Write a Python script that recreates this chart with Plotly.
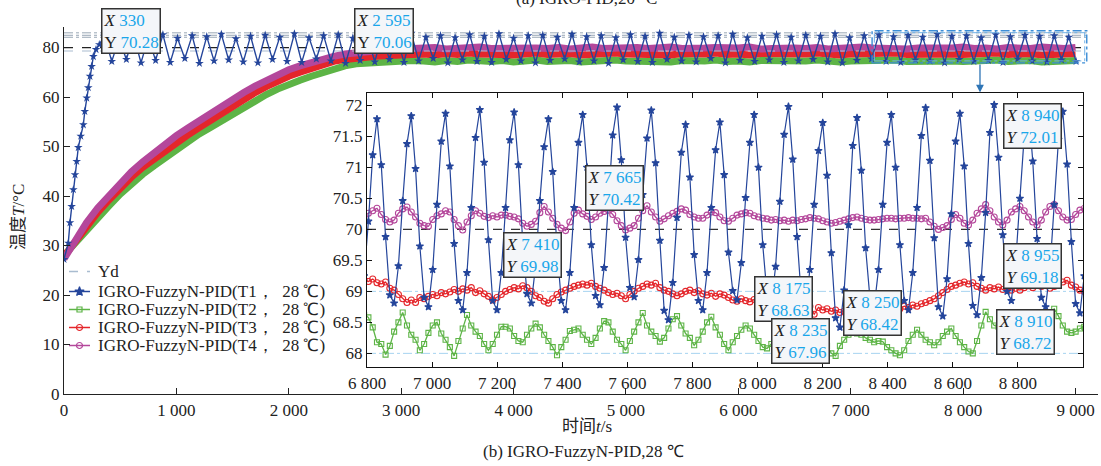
import plotly.graph_objects as go

# ---------------- main panel (0 - 9 000 s) ----------------
MAIN_STEP = 100  # s between read points of T2-T4
T2_MAIN = [28.0, 30.6, 33.3, 35.6, 38.0, 40.4, 42.5, 44.4, 46.1, 47.8, 49.3, 51.0, 52.5, 53.8, 55.2,
           56.5, 57.9, 59.2, 60.5, 61.6, 62.6, 63.4, 64.2, 65.0, 65.6, 66.3, 66.7, 66.9, 67.0, 67.1,
           67.2, 67.4, 67.3, 67.1, 67.4, 67.2, 67.5, 67.3, 67.2, 67.4, 67.1, 67.3, 67.5, 67.2, 67.3,
           67.4, 67.1, 67.3, 67.2, 67.5, 67.3, 67.2, 67.4, 67.3, 67.1, 67.4, 67.2, 67.3, 67.5, 67.2,
           67.3, 67.1, 67.4, 67.3, 67.2, 67.4, 67.3, 67.5, 67.2, 67.1, 67.3, 67.4, 67.2, 67.3, 67.5,
           67.2, 67.3, 67.1, 67.4, 67.3, 67.2, 67.4, 67.3, 67.5, 67.2, 67.3, 67.4, 67.1, 67.3, 67.2, 67.4]
T3_MAIN = [27.8, 30.9, 33.9, 36.7, 39.2, 41.6, 43.8, 45.8, 47.5, 49.1, 50.7, 52.3, 53.8, 55.3, 56.8,
           58.2, 59.6, 60.9, 62.1, 63.3, 64.2, 65.0, 65.8, 66.6, 67.2, 67.6, 67.9, 68.1, 68.3, 68.4,
           68.6, 68.8, 68.7, 68.5, 68.8, 68.6, 68.9, 68.7, 68.6, 68.8, 68.5, 68.7, 68.9, 68.6, 68.7,
           68.8, 68.5, 68.7, 68.6, 68.9, 68.7, 68.6, 68.8, 68.7, 68.5, 68.8, 68.6, 68.7, 68.9, 68.6,
           68.7, 68.5, 68.8, 68.7, 68.6, 68.8, 68.7, 68.9, 68.6, 68.5, 68.7, 68.8, 68.6, 68.7, 68.9,
           68.6, 68.7, 68.5, 68.8, 68.7, 68.6, 68.8, 68.7, 68.9, 68.6, 68.7, 68.8, 68.5, 68.7, 68.6, 68.8]
T4_MAIN = [27.3, 31.3, 34.6, 37.6, 40.2, 42.6, 44.9, 46.9, 48.8, 50.6, 52.2, 53.7, 55.2, 56.7, 58.2,
           59.6, 60.9, 62.2, 63.4, 64.5, 65.5, 66.3, 67.0, 67.7, 68.2, 68.7, 69.0, 69.3, 69.5, 69.6,
           69.7, 69.9, 69.8, 70.0, 69.7, 69.9, 69.8, 70.1, 69.8, 69.9, 69.7, 70.0, 69.9, 69.8, 70.0,
           69.7, 69.9, 70.1, 69.8, 69.9, 69.7, 70.0, 69.8, 69.9, 70.1, 69.8, 69.7, 69.9, 70.0, 69.8,
           69.9, 70.1, 69.7, 69.8, 70.0, 69.9, 69.8, 70.0, 69.7, 69.9, 69.8, 70.1, 69.9, 69.8, 70.0,
           69.7, 69.9, 69.8, 70.0, 69.9, 70.1, 69.8, 69.9, 69.7, 70.0, 69.9, 69.8, 70.1, 69.9, 69.8, 70.0]

T1_RISE_T = [0, 38, 53, 68, 83, 98, 113, 127, 149, 172, 185, 202, 216, 231, 246, 261, 285, 314]
T1_RISE_V = [27.2, 30.5, 34.6, 37.9, 41.3, 44.3, 47.0, 49.8, 52.1, 54.4, 57.1, 59.8, 61.9, 64.2,
             66.2, 68.2, 69.6, 70.6]
T1_OSC_START = 360   # s, first crest after the rise
T1_OSC_PERIOD = 130  # s
T1_TOPS = [72.3, 71.8, 72.5, 72.0, 72.6, 71.9, 72.4, 72.2, 72.7, 71.8, 72.3, 72.5, 72.1, 72.8, 72.0,
           72.4, 72.6, 71.9, 72.3, 72.5, 72.2, 72.9, 72.1, 72.4, 72.0, 72.6, 72.3, 72.8, 71.9, 72.4,
           72.5, 72.1, 72.7, 72.2, 72.4, 72.0, 72.6, 72.3, 72.9, 72.1, 72.5, 72.2, 72.4, 72.7, 72.0,
           72.3, 72.6, 72.1, 72.5, 72.3, 72.8, 72.0, 72.4, 72.6, 72.2, 72.5, 72.1, 72.7, 72.3, 72.4,
           72.0, 72.6, 72.2, 72.5, 72.3, 72.4, 72.1]
T1_BOTTOMS = [67.2, 67.6, 66.9, 67.4, 67.0, 67.8, 66.8, 67.3, 67.5, 67.1, 66.9, 67.6, 67.2, 67.0, 67.7,
              67.3, 66.8, 67.4, 67.1, 67.6, 67.0, 67.3, 67.8, 66.9, 67.5, 67.2, 67.0, 67.6, 67.3, 66.9,
              67.4, 67.7, 67.1, 67.3, 66.8, 67.5, 67.2, 67.0, 67.6, 67.3, 67.1, 67.8, 66.9, 67.4, 67.2,
              67.5, 67.0, 67.3, 67.6, 67.1, 66.9, 67.4, 67.7, 67.2, 67.0, 67.5, 67.3, 66.9, 67.6, 67.2,
              67.4, 67.0, 67.7, 67.3, 67.1, 67.5, 67.2]

MAIN_X_TICKS = [0, 1000, 2000, 3000, 4000, 5000, 6000, 7000, 8000, 9000]
MAIN_X_LABELS = ["0", "1 000", "2 000", "3 000", "4 000", "5 000", "6 000", "7 000", "8 000", "9 000"]
MAIN_Y_TICKS = [0, 10, 20, 30, 40, 50, 60, 70]
MAIN_Y_LABELS = ["0", "10", "20", "30", "40", "50", "60", "80"]
YD_VALUE = 70
YD_LIGHT = 69.3
REF_LINES_TOP = [72.08, 72.48, 72.97]

# ---------------- inset (6 800 - 9 000 s) ----------------
INSET_T0 = 6778
INSET_DT = 13.17
T1_INSET = [68.70, 69.25, 70.13, 71.20, 71.78, 71.04, 69.88, 68.94,
            68.81, 69.41, 70.46, 71.38, 71.83, 70.98, 69.73, 68.90,
            68.75, 69.35, 70.40, 71.42, 71.87, 71.02, 69.77, 68.85,
            68.70, 69.30, 70.35, 71.48, 71.93, 71.08, 69.83, 68.85,
            68.70, 69.30, 70.35, 71.44, 71.89, 71.04, 69.79, 68.96,
            68.81, 69.41, 70.46, 71.33, 71.78, 70.93, 69.68, 68.85,
            68.70, 69.30, 70.35, 71.40, 71.85, 71.00, 69.75, 68.93,
            68.78, 69.38, 70.43, 71.52, 71.97, 71.12, 69.87, 69.06,
            68.91, 69.51, 70.56, 71.47, 71.92, 71.07, 69.82, 68.69,
            68.54, 69.14, 70.19, 71.24, 71.69, 70.84, 69.59, 68.85,
            68.70, 69.30, 70.35, 71.28, 71.73, 70.88, 69.63, 69.01,
            68.86, 69.46, 70.51, 71.40, 71.85, 71.00, 69.75, 68.95,
            68.80, 69.40, 70.45, 71.53, 71.98, 71.13, 69.88, 68.90,
            68.75, 69.35, 70.40, 71.27, 71.72, 70.87, 69.62, 68.57,
            68.42, 69.02, 70.07, 71.35, 71.80, 70.95, 69.70, 68.90,
            68.75, 69.35, 70.40, 71.40, 71.85, 71.00, 69.75, 68.85,
            68.70, 69.30, 70.35, 71.51, 71.96, 71.11, 69.86, 68.75,
            68.60, 69.20, 70.25, 71.42, 71.87, 71.02, 69.77, 68.77,
            68.62, 69.22, 70.27, 71.56, 72.01, 71.16, 69.91, 69.00,
            68.85, 69.45, 70.50, 71.50, 71.95, 71.10, 69.85, 68.90,
            68.75, 69.35, 70.40, 71.45, 71.90, 71.05, 69.80, 68.80,
            68.65, 69.25]
T2_INSET = [68.70, 68.62, 68.58, 68.42, 68.18, 68.15, 67.98, 68.12, 68.35, 68.50, 68.66, 68.45, 68.30,
            68.22, 68.05, 68.15, 68.33, 68.45, 68.50, 68.32, 68.22, 68.10, 67.96, 68.20, 68.40, 68.62,
            68.45, 68.35, 68.28, 68.15, 68.05, 68.15, 68.30, 68.43, 68.43, 68.40, 68.28, 68.20, 68.18,
            68.30, 68.40, 68.48, 68.42, 68.30, 68.20, 68.10, 67.97, 68.10, 68.22, 68.36, 68.38, 68.40,
            68.30, 68.22, 68.15, 68.25, 68.40, 68.52, 68.50, 68.35, 68.22, 68.15, 68.05, 68.20, 68.35,
            68.50, 68.65, 68.45, 68.35, 68.28, 68.19, 68.25, 68.40, 68.55, 68.60, 68.45, 68.32, 68.25,
            68.13, 68.22, 68.35, 68.50, 68.59, 68.42, 68.30, 68.15, 68.05, 68.18, 68.28, 68.38, 68.45,
            68.40, 68.30, 68.20, 68.10, 68.08, 68.15, 68.30, 68.40, 68.45, 68.35, 68.25, 68.12, 68.08,
            68.10, 68.25, 68.35, 68.40, 68.28, 68.12, 68.00, 67.96, 68.12, 68.22, 68.30, 68.35, 68.32,
            68.30, 68.25, 68.22, 68.18, 68.20, 68.19, 68.10, 68.05, 68.00, 67.97, 68.05, 68.20, 68.30,
            68.38, 68.30, 68.22, 68.18, 68.13, 68.18, 68.28, 68.35, 68.40, 68.28, 68.18, 68.10, 68.03,
            68.00, 68.20, 68.45, 68.67, 68.55, 68.45, 68.43, 68.40, 68.35, 68.30, 68.28, 68.30, 68.35,
            68.40, 68.45, 68.50, 68.55, 68.60, 68.65, 68.72, 68.60, 68.45, 68.35, 68.33, 68.35, 68.40,
            68.43]
T3_INSET = [69.15, 69.18, 69.16, 69.20, 69.14, 69.12, 69.15, 69.05, 69.02, 68.95, 68.88, 68.82, 68.86,
            68.82, 68.90, 68.88, 68.92, 68.95, 68.93, 68.98, 68.96, 68.99, 69.03, 69.00, 69.04, 69.02,
            69.06, 68.98, 69.01, 68.96, 68.92, 68.86, 68.90, 68.95, 69.00, 69.03, 69.06, 69.04, 69.09,
            69.06, 69.00, 68.93, 68.90, 68.84, 68.81, 68.88, 68.95, 68.99, 69.02, 69.05, 69.08, 69.10,
            69.12, 69.10, 69.13, 69.08, 69.05, 69.02, 68.98, 68.95, 68.97, 68.93, 68.88, 68.95, 69.00,
            69.05, 69.08, 69.12, 69.10, 69.13, 69.06, 69.02, 69.00, 68.96, 68.93, 68.96, 69.00, 69.02,
            68.98, 69.01, 68.96, 68.94, 68.97, 68.92, 68.96, 68.94, 68.90, 68.86, 68.84, 68.88, 68.85,
            68.83, 68.87, 68.90, 68.92, 68.88, 68.91, 68.89, 68.93, 68.90, 68.87, 68.91, 68.89, 68.85,
            68.82, 68.76, 68.63, 68.74, 68.70, 68.72, 68.68, 68.70, 68.66, 68.68, 68.65, 68.70, 68.68,
            68.72, 68.70, 68.74, 68.71, 68.75, 68.72, 68.68, 68.70, 68.74, 68.72, 68.76, 68.74, 68.78,
            68.76, 68.80, 68.82, 68.85, 68.88, 68.93, 68.98, 69.03, 69.08, 69.10, 69.13, 69.15, 69.12,
            69.14, 69.08, 69.05, 69.02, 69.06, 69.04, 69.07, 69.03, 69.06, 69.02, 69.05, 69.02, 69.06,
            69.09, 69.06, 69.10, 69.08, 69.10, 69.05, 69.08, 69.12, 69.15, 69.18, 69.10, 69.07, 69.02,
            69.00]
T4_INSET = [70.18, 70.22, 70.26, 70.30, 70.34, 70.24, 70.16, 70.12, 70.15, 70.26, 70.33, 70.36, 70.28,
            70.20, 70.10, 70.06, 70.05, 70.16, 70.22, 70.25, 70.30, 70.28, 70.16, 70.06, 69.99, 70.12,
            70.22, 70.30, 70.26, 70.21, 70.19, 70.22, 70.20, 70.23, 70.23, 70.21, 70.20, 70.17, 70.10,
            70.05, 70.08, 70.13, 70.27, 70.37, 70.28, 70.18, 70.08, 70.02, 69.98, 70.12, 70.26, 70.31,
            70.25, 70.21, 70.16, 70.20, 70.26, 70.29, 70.31, 70.24, 70.14, 70.06, 69.99, 70.02, 70.06,
            70.18, 70.30, 70.38, 70.28, 70.20, 70.13, 70.17, 70.22, 70.26, 70.29, 70.33, 70.31, 70.24,
            70.20, 70.18, 70.18, 70.23, 70.28, 70.27, 70.20, 70.14, 70.13, 70.18, 70.23, 70.25, 70.27,
            70.26, 70.22, 70.20, 70.18, 70.17, 70.15, 70.16, 70.14, 70.15, 70.13, 70.15, 70.14, 70.16,
            70.17, 70.19, 70.18, 70.17, 70.14, 70.12, 70.10, 70.11, 70.13, 70.15, 70.17, 70.19, 70.20,
            70.18, 70.16, 70.15, 70.15, 70.16, 70.17, 70.18, 70.18, 70.17, 70.18, 70.18, 70.19, 70.18,
            70.18, 70.17, 70.18, 70.12, 70.05, 70.00, 70.03, 70.06, 70.16, 70.24, 70.18, 70.10, 70.07,
            70.15, 70.26, 70.33, 70.40, 70.30, 70.20, 70.12, 70.07, 70.15, 70.28, 70.33, 70.37, 70.30,
            70.20, 70.12, 70.07, 70.15, 70.28, 70.37, 70.40, 70.30, 70.20, 70.15, 70.16, 70.24, 70.31,
            70.34]
INSET_BANDS = [69.0, 68.0]
INSET_X_TICKS = [6800, 7000, 7200, 7400, 7600, 7800, 8000, 8200, 8400, 8600, 8800]
INSET_X_LABELS = ["6 800", "7 000", "7 200", "7 400", "7 600", "7 800", "8 000", "8 200",
                  "8 400", "8 600", "8 800"]
INSET_Y_TICKS = [68, 68.5, 69, 69.5, 70, 70.5, 71, 71.5, 72]
INSET_Y_LABELS = ["68", "68.5", "69", "69.5", "70", "70.5", "71", "71.5", "72"]

# data tips: (x text, y text, upright Y?, box left px, box top px)
TIPS = [
    ("330", "70.28", True, 101, 8),
    ("2 595", "70.06", True, 354, 8),
    ("7 665", "70.42", False, 585, 165),
    ("7 410", "69.98", False, 503, 232),
    ("8 940", "72.01", False, 1003, 103),
    ("8 955", "69.18", False, 1003, 243),
    ("8 175", "68.63", False, 754, 276),
    ("8 250", "68.42", False, 843, 290),
    ("8 235", "67.96", False, 771, 318),
    ("8 910", "68.72", False, 996, 309),
]

LEGEND_LABELS = ["Yd", "IGRO-FuzzyN-PID(T1，  28 ℃)", "IGRO-FuzzyN-PID(T2，  28 ℃)",
                 "IGRO-FuzzyN-PID(T3，  28 ℃)", "IGRO-FuzzyN-PID(T4，  28 ℃)"]
LEGEND_ROWS_PX = [271.5, 291.5, 309.5, 327.5, 345.5]
BLUE, GREEN, RED, PINK = "#24459B", "#5DB446", "#E4262B", "#B4479B"
YD_COLOR = "#A9BCD0"

# ---------------- geometry ----------------
W, H = 1101, 466
ML, MR, MT, MB = 64, 3, 27, 72
PW, PH = W - ML - MR, H - MT - MB


def px(x):
    return (x - ML) / PW


def py(y):
    return (H - MB - y) / PH


SERIF = "Liberation Serif"
CJK = "Noto Sans CJK SC"
TXT = "#222222"

fig = go.Figure()

main_t = [MAIN_STEP * i for i in range(len(T2_MAIN))]
for v in REF_LINES_TOP:
    fig.add_trace(go.Scatter(x=[0, 9100], y=[v, v], mode="lines",
                             line=dict(color="#98A6B4", width=1, dash="dashdot"), hoverinfo="skip"))
fig.add_trace(go.Scatter(x=[0, 9100], y=[YD_VALUE, YD_VALUE], mode="lines",
                         line=dict(color="#222222", width=1.2, dash="dash"), hoverinfo="skip"))

for vals, col in [(T2_MAIN, GREEN), (T3_MAIN, RED), (T4_MAIN, PINK)]:
    fig.add_trace(go.Scatter(x=main_t, y=vals, mode="lines",
                             line=dict(color=col, width=7), hoverinfo="skip"))
fig.add_trace(go.Scatter(x=[0, 9100], y=[YD_LIGHT, YD_LIGHT], mode="lines",
                         line=dict(color=YD_COLOR, width=1.2, dash="dash"), hoverinfo="skip"))

t1_x = list(T1_RISE_T)
t1_y = list(T1_RISE_V)
for i, (a, b) in enumerate(zip(T1_TOPS, T1_BOTTOMS)):
    t1_x += [T1_OSC_START + T1_OSC_PERIOD * i, T1_OSC_START + T1_OSC_PERIOD * i + T1_OSC_PERIOD / 2]
    t1_y += [a, b]
fig.add_trace(go.Scatter(x=t1_x, y=t1_y, mode="lines+markers",
                         line=dict(color=BLUE, width=1.4),
                         marker=dict(symbol="star", size=6.5, color=BLUE), hoverinfo="skip"))

# ---------------- hand-placed legend on a pixel overlay axis ----------------
LEG_STYLE = [(YD_COLOR, None, 0), (BLUE, "star", 7), (GREEN, "square-open", 5),
             (RED, "circle-open", 6), (PINK, "circle-open", 6)]
for (col, sym, size), yrow in zip(LEG_STYLE, LEGEND_ROWS_PX):
    fig.add_trace(go.Scatter(x=[69, 90], y=[yrow, yrow], mode="lines", xaxis="x3", yaxis="y3",
                             line=dict(color=col, width=1.5, dash="dash" if sym is None else "solid"),
                             hoverinfo="skip"))
    if sym is not None:
        fig.add_trace(go.Scatter(x=[79.5], y=[yrow], mode="markers", xaxis="x3", yaxis="y3",
                                 marker=dict(symbol=sym, size=size, color=col,
                                             line=dict(color=col, width=1.2)), hoverinfo="skip"))

# ---------------- inset traces ----------------
inset_t = [INSET_T0 + INSET_DT * k for k in range(len(T1_INSET))]
for v in INSET_BANDS:
    fig.add_trace(go.Scatter(x=[6800, 9000], y=[v, v], mode="lines", xaxis="x2", yaxis="y2",
                             line=dict(color="#A6D3F0", width=1, dash="dashdot"), hoverinfo="skip"))
fig.add_trace(go.Scatter(x=[6800, 9000], y=[YD_VALUE, YD_VALUE], mode="lines", xaxis="x2", yaxis="y2",
                         line=dict(color="#333333", width=1.2, dash="dash"), hoverinfo="skip"))

STYLES = [  # (values, colour, symbol, size, line width)
    (T2_INSET, GREEN, "square-open", 5, 1.3),
    (T3_INSET, RED, "circle-open", 6, 1.3),
    (T4_INSET, PINK, "circle-open", 6, 1.3),
    (T1_INSET, BLUE, "star", 5.5, 1.2),
]
for vals, col, sym, size, lw in STYLES:
    fig.add_trace(go.Scatter(x=inset_t[:len(vals)], y=vals, mode="lines+markers",
                             xaxis="x2", yaxis="y2", line=dict(color=col, width=lw),
                             marker=dict(symbol=sym, size=size, color=col,
                                         line=dict(color=col, width=1.1)), hoverinfo="skip"))

# ---------------- annotations ----------------
ann = []
TIPC = "#1AA6EA"
for xs, ys, upright, bx, by in TIPS:
    ylab = "Y" if upright else "<i>Y</i>"
    txt = (f"<i>X</i> <span style='color:{TIPC}'>{xs}</span><br>"
           f"{ylab} <span style='color:{TIPC}'>{ys}</span>")
    ann.append(dict(x=px(bx), y=py(by), xref="paper", yref="paper", xanchor="left", yanchor="top",
                    text=txt, showarrow=False, align="left", bgcolor="#F4F6F9",
                    bordercolor="#333333", borderwidth=1.5, borderpad=1,
                    font=dict(family=SERIF, size=17, color=TXT)))

for lab, yrow in zip(LEGEND_LABELS, LEGEND_ROWS_PX):
    ann.append(dict(x=96, y=yrow, xref="x3", yref="y3", xanchor="left", yanchor="middle",
                    text=lab, showarrow=False, font=dict(family=SERIF, size=17, color=TXT)))

ann.append(dict(x=px(586), y=py(-1), xref="paper", yref="paper", xanchor="center", yanchor="middle",
                text="(a) IGRO-PID,20 °C", showarrow=False,
                font=dict(family=SERIF, size=17, color=TXT)))
ann.append(dict(x=px(583), y=py(452), xref="paper", yref="paper", xanchor="center", yanchor="middle",
                text="(b) IGRO-FuzzyN-PID,28 ℃", showarrow=False,
                font=dict(family=SERIF, size=17, color=TXT)))
ann.append(dict(x=px(587), y=py(426), xref="paper", yref="paper", xanchor="center", yanchor="middle",
                text="时间<i>t</i>/s", showarrow=False,
                font=dict(family=SERIF + ", " + CJK, size=17, color=TXT)))
ann.append(dict(x=px(18), y=py(217), xref="paper", yref="paper", xanchor="center", yanchor="middle",
                text="温度<i>T</i>/°C", textangle=-90, showarrow=False,
                font=dict(family=SERIF + ", " + CJK, size=17, color=TXT)))
ann.append(dict(x=8150, y=60.9, ax=8150, ay=66.9, xref="x", yref="y", axref="x", ayref="y",
                text="", showarrow=True, arrowhead=2, arrowsize=1.2, arrowwidth=1.3,
                arrowcolor="#2E75B6"))

shapes = [
    dict(type="rect", xref="x", yref="y", x0=7190, x1=9100, y0=66.9, y1=73.4,
         line=dict(color="#3C8DD6", width=1.4, dash="dashdot")),
    dict(type="rect", xref="x", yref="y", x0=7210, x1=9082, y0=67.3, y1=73.0,
         line=dict(color="#6FB0E6", width=1, dash="dashdot")),
]

axis_font = dict(family=SERIF, size=17, color=TXT)
fig.update_layout(
    width=W, height=H, margin=dict(l=ML, r=MR, t=MT, b=MB),
    paper_bgcolor="white", plot_bgcolor="white", showlegend=False,
    xaxis=dict(domain=[0, 1], range=[0, 9200], showline=True, linecolor="#222222", linewidth=1.3,
               ticks="inside", ticklen=6, tickcolor="#222222", tickvals=MAIN_X_TICKS,
               ticktext=MAIN_X_LABELS, showgrid=False, zeroline=False, tickfont=axis_font),
    yaxis=dict(domain=[0, 1], range=[0, 74.15], showline=True, linecolor="#222222", linewidth=1.3,
               ticks="inside", ticklen=6, tickcolor="#222222", tickvals=MAIN_Y_TICKS,
               ticktext=MAIN_Y_LABELS, showgrid=False, zeroline=False, tickfont=axis_font),
    xaxis2=dict(domain=[px(367), px(1083)], anchor="y2", range=[6800, 9000], showline=True,
                mirror="ticks", linecolor="#111111", linewidth=1.3, ticks="inside", ticklen=5,
                tickcolor="#111111", tickvals=INSET_X_TICKS, ticktext=INSET_X_LABELS,
                showgrid=False, zeroline=False, tickfont=axis_font),
    yaxis2=dict(domain=[py(367), py(93)], anchor="x2", range=[67.78, 72.2], showline=True,
                mirror="ticks", linecolor="#111111", linewidth=1.3, ticks="inside", ticklen=5,
                tickcolor="#111111", tickvals=INSET_Y_TICKS, ticktext=INSET_Y_LABELS,
                showgrid=False, zeroline=False, tickfont=axis_font),
    xaxis3=dict(overlaying="x", anchor="y3", range=[ML, W - MR], visible=False, fixedrange=True),
    yaxis3=dict(overlaying="y", anchor="x3", range=[H - MB, MT], visible=False, fixedrange=True),
    annotations=ann, shapes=shapes,
)

fig.write_html("out.html")
